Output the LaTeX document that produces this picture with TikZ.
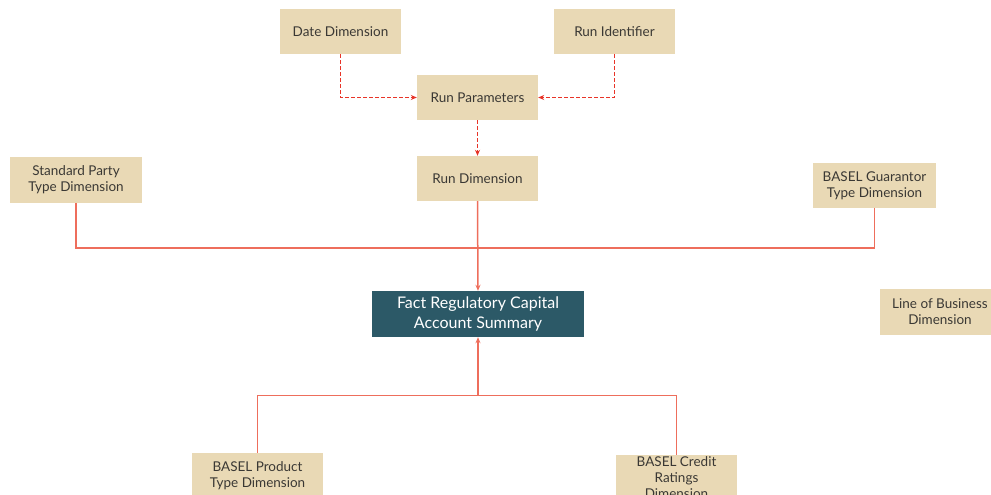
\documentclass[tikz,border=0pt]{standalone}
\usepackage{fontspec}
\setmainfont{Lato}
\usetikzlibrary{arrows.meta}
\definecolor{boxfill}{RGB}{233,217,181}
\definecolor{boxtext}{RGB}{58,56,52}
\definecolor{factfill}{RGB}{44,89,103}
\definecolor{solidline}{RGB}{238,110,92}
\definecolor{dashline}{RGB}{232,52,40}
\tikzset{
  dim/.style={rectangle, fill=boxfill, text=boxtext, align=center,
    inner sep=0pt, minimum width=121pt, minimum height=45pt,
    font=\fontsize{13.5}{16}\selectfont},
  fact/.style={rectangle, fill=factfill, text=white, align=center,
    inner sep=0pt, minimum width=212pt, minimum height=46pt,
    font=\fontsize{16}{20}\selectfont},
  feed/.style={draw=dashline, line width=1pt, dash pattern=on 3.5pt off 2.5pt},
  link/.style={draw=solidline, line width=1.5pt},
  tip/.style={-{Stealth[length=6pt,width=5pt]}}
}
\begin{document}
\begin{tikzpicture}[x=1pt,y=-1pt]
\useasboundingbox (0,0) rectangle (991,495);

% dimension boxes
\node[dim] (date)   at (340.5,31.5) {Date Dimension};
\node[dim] (runid)  at (614.5,31.5) {Run Identifier};
\node[dim] (runpar) at (477.5,97.5) {Run Parameters};
\node[dim] (rundim) at (477.5,178.5) {Run Dimension};
\node[dim, minimum width=132pt, minimum height=46pt] (party) at (76,180) {Standard Party\\Type Dimension};
\node[dim, minimum width=123pt] (guar) at (874.5,185.5) {BASEL Guarantor\\Type Dimension};
\node[dim, minimum width=120pt, minimum height=46pt] (lob) at (940,312) {Line of Business\\Dimension};
\node[dim, minimum width=131pt, minimum height=46pt] (prod) at (257.5,476) {BASEL Product\\Type Dimension};
\node[dim, minimum width=121pt, minimum height=46pt] (credit) at (676.5,478) {BASEL Credit\\Ratings\\Dimension};

% fact table
\node[fact] (factreg) at (478,314) {Fact Regulatory Capital\\Account Summary};

% junction points of the solid connectors
\coordinate (topbar) at (478,248);
\coordinate (botbar) at (478,395.5);

% dashed feeds into the run parameters
\draw[feed, tip] (date.south) |- (runpar.west);
\draw[feed, tip] (runid.south) |- (runpar.east);
\draw[feed, tip] (runpar.south) -- (rundim.north);

% solid links into the fact table
\draw[link] (party.south) |- (topbar) -| (guar.south);
\draw[link, tip] (rundim.south) -- (factreg.north);
\draw[link] (prod.north) |- (botbar);
\draw[link] (credit.north) |- (botbar);
\draw[link, tip] (botbar) -- (factreg.south);
\end{tikzpicture}
\end{document}
